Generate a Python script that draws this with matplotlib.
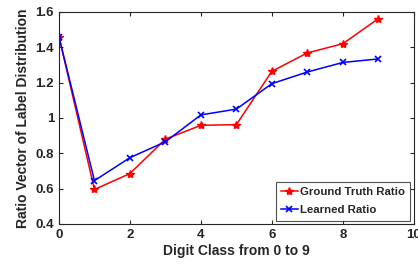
import numpy as np
import matplotlib
matplotlib.use("Agg")
import matplotlib.pyplot as plt

digits = [0, 1, 2, 3, 4, 5, 6, 7, 8, 9]
ground_truth = [1.46, 0.595, 0.685, 0.88, 0.958, 0.962, 1.264, 1.368, 1.42, 1.562]
learned = [1.46, 0.645, 0.775, 0.865, 1.017, 1.05, 1.194, 1.26, 1.314, 1.334]

plt.rcParams["font.family"] = ["Liberation Sans", "DejaVu Sans"]
plt.rcParams["font.weight"] = "bold"
txt = "#262626"

fig = plt.figure(figsize=(4.18, 2.65), dpi=100)
ax = fig.add_axes([0.141, 0.155, 0.849, 0.80])

ax.plot(digits, ground_truth, color="red", marker="*", markersize=6, linewidth=1.1,
        label="Ground Truth Ratio")
ax.plot(digits, learned, color="blue", marker="x", markersize=4, markeredgewidth=1.2,
        linewidth=1.1, label="Learned Ratio")

ax.set_xlim(0, 10)
ax.set_ylim(0.4, 1.6)
ax.set_xticks([0, 2, 4, 6, 8, 10])
ax.set_yticks([0.4, 0.6, 0.8, 1.0, 1.2, 1.4, 1.6])
ax.set_yticklabels(["0.4", "0.6", "0.8", "1", "1.2", "1.4", "1.6"])
ax.tick_params(direction="in", top=True, right=True, labelsize=9.5, length=3, width=0.8,
               colors=txt, labelcolor=txt)
for s in ax.spines.values():
    s.set_linewidth(0.8)
    s.set_color(txt)

ax.set_xlabel("Digit Class from 0 to 9", fontsize=10, fontweight="bold", labelpad=2, color=txt)
ax.set_ylabel("Ratio Vector of Label Distribution", fontsize=10, fontweight="bold",
              labelpad=4, color=txt)

leg = ax.legend(loc="lower right", fontsize=8.2, fancybox=False, edgecolor=txt,
                handlelength=1.5, handletextpad=0.2, borderpad=0.45, labelspacing=0.7,
                borderaxespad=0.3)
leg.get_frame().set_linewidth(0.8)
for t in leg.get_texts():
    t.set_color(txt)

fig.savefig("out.png", dpi=100)
